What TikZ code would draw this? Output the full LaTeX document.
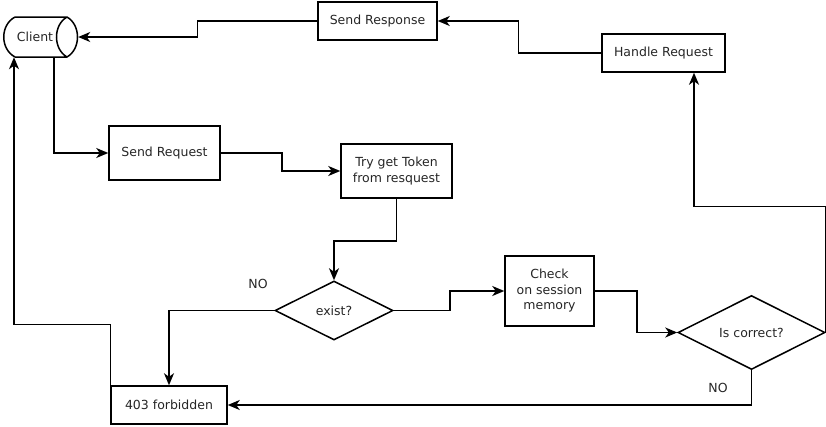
\documentclass[tikz,border=0pt]{standalone}
\usepackage{fontspec}
\setmainfont{DejaVu Sans}
\usetikzlibrary{shapes.geometric,arrows.meta}
\begin{document}
\begin{tikzpicture}[x=1pt,y=-1pt,
  txt/.style={text=black!85,font=\fontsize{12.5}{15.5}\selectfont,align=center,inner sep=0pt},
  box/.style={txt,draw,line width=1.5pt,rectangle},
  dia/.style={txt,draw,line width=1.5pt,diamond},
  conn/.style={draw,line width=1.5pt,-{Stealth[length=12pt,width=10pt,inset=3.5pt]}},
  lbl/.style={txt}]
\useasboundingbox (0,0) rectangle (826,426);
% client cylinder
\draw[line width=1.5pt] (15,17) -- (67,17) (15,57) -- (67,57)
  (15,17) .. controls (0,25) and (0,49) .. (15,57)
  (67,17) .. controls (53,25) and (53,49) .. (67,57)
  (67,17) .. controls (81,25) and (81,49) .. (67,57);
\node[minimum width=75pt,minimum height=40pt,inner sep=0pt] (client) at (40.5,37) {};
\node[lbl] (clientlabel) at (35,37) {Client};

\node[box,minimum width=119pt,minimum height=38pt] (sendresp) at (377.5,21) {Send Response};
\node[box,minimum width=123pt,minimum height=38pt] (handle) at (663.5,53) {Handle Request};
\node[box,minimum width=111pt,minimum height=54pt] (sendreq) at (164.5,153) {Send Request};
\node[box,minimum width=111pt,minimum height=54pt] (token) at (396.5,171) {Try get Token\\from resquest};
\node[dia,minimum width=118pt,minimum height=59pt] (exist) at (334,310.5) {exist?};
\node[box,minimum width=89pt,minimum height=70pt] (check) at (549.5,291) {Check\\on session\\memory};
\node[dia,minimum width=147pt,minimum height=73pt] (correct) at (751.5,332.5) {Is correct?};
\node[box,minimum width=116pt,minimum height=38pt] (forbid) at (169,405) {403 forbidden};
\node[lbl] (no1) at (258,283.5) {NO};
\node[lbl] (no2) at (718,387.5) {NO};

\draw[conn] (sendresp.west) -- ++(-120,0) |- (client.east);
\draw[conn] (handle.west) -- ++(-83,0) |- (sendresp.east);
\draw[conn] ([xshift=13.5pt]client.south) |- (sendreq.west);
\draw[conn] (sendreq.east) -- ++(61,0) |- (token.west);
\draw[conn] (token.south) -- ++(0,42) -| (exist.north);
\draw[conn] (exist.east) -- ++(56,0) |- (check.west);
\draw[conn] (exist.west) -| (forbid.north);
\draw[conn] (check.east) -- ++(42,0) |- (correct.west);
\draw[conn] (correct.east) -- ++(0,-126) -| ([xshift=30.5pt]handle.south);
\draw[conn] (correct.south) |- (forbid.east);
\draw[conn] (forbid.north west) -- ++(0,-61) -| ([xshift=-26.5pt]client.south);
\end{tikzpicture}
\end{document}
